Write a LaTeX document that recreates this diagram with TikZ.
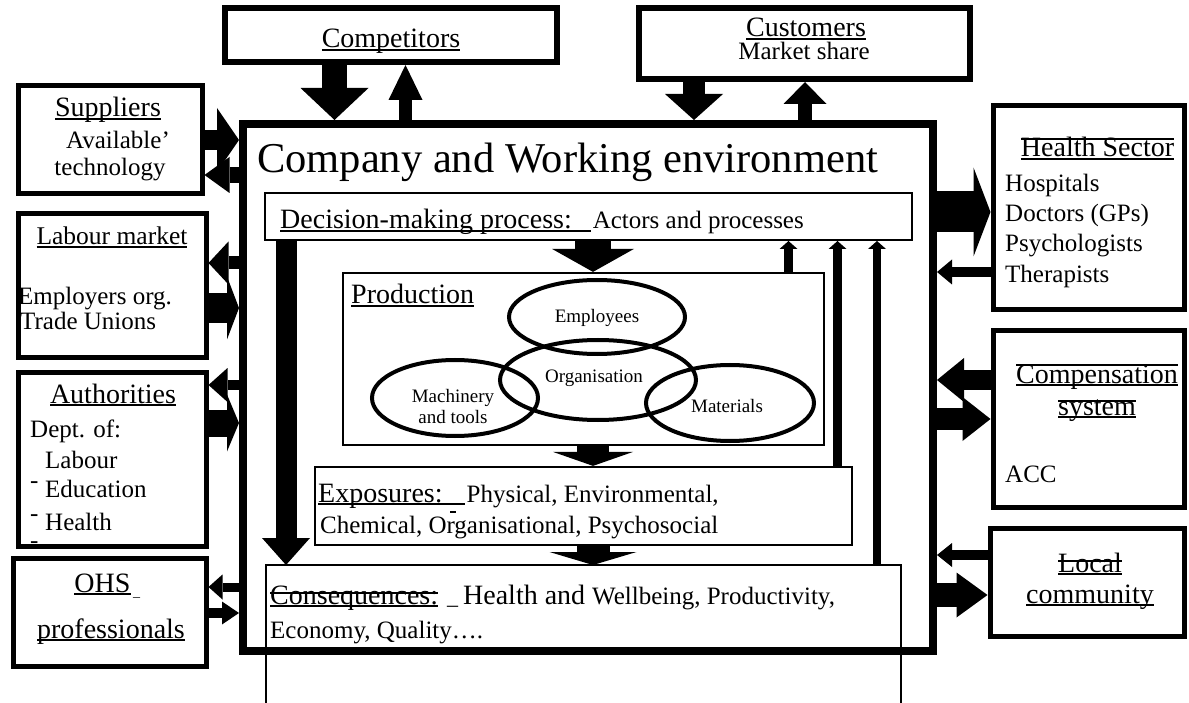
\documentclass[tikz,border=0pt]{standalone}
\usepackage{fontspec}
\setmainfont{Liberation Serif}
\usetikzlibrary{arrows.meta,shapes.geometric}
\tikzset{ob/.style={draw, line width=5pt, inner sep=0pt}}
\tikzset{ib/.style={draw, line width=2pt, inner sep=0pt}}
\tikzset{el/.style={draw, ellipse, line width=4pt, inner sep=0pt}}
\tikzset{hd/.style={font=\fontsize{28}{30}\selectfont, inner sep=0pt}}
\tikzset{tx/.style={font=\fontsize{25}{28}\selectfont, inner sep=0pt}}
\tikzset{sm/.style={font=\fontsize{19}{21}\selectfont, inner sep=0pt}}
\tikzset{ba/.style n args={3}{line width=#1pt, -{Triangle[length=#2pt, width=#3pt, line width=0pt]}}}
\newcommand{\uln}[1]{\sbox0{#1}\rlap{\rule[-.1em]{\wd0}{.065em}}\usebox0}
\newcommand{\strk}[2]{\sbox0{#2}\rlap{\rule[#1]{\wd0}{.065em}}\usebox0}

\begin{document}
\begin{tikzpicture}[x=1pt, y=-1pt]
    \useasboundingbox (0,0) rectangle (1189,703);
    % outside boxes
    \node[ob, line width=6pt, minimum width=332pt, minimum height=54pt] (comp) at (391,35) {};
    \node[ob, line width=6pt, minimum width=331pt, minimum height=71pt] (cust) at (804.5,43.5) {};
    \node[ob, minimum width=184pt, minimum height=108pt] (supp) at (110,140) {};
    \node[ob, minimum width=188pt, minimum height=144pt] (lab) at (112,286) {};
    \node[ob, minimum width=188pt, minimum height=174pt] (auth) at (112,459) {};
    \node[ob, minimum width=193pt, minimum height=108pt] (ohs) at (109.5,612) {};
    \node[ob, minimum width=191pt, minimum height=204pt] (hlth) at (1088.5,208) {};
    \node[ob, minimum width=191pt, minimum height=176pt] (comps) at (1088.5,419) {};
    \node[ob, minimum width=194pt, minimum height=108pt] (loc) at (1087,582) {};
    % company
    \coordinate (cqsw) at (266,703);
    \coordinate (cqne) at (901,565);
    \draw[line width=2pt] (cqsw) |- (cqne) -- (cqne |- cqsw);
    \node[ob, line width=8pt, minimum width=690pt, minimum height=527pt] (main) at (588,387.5) {};
    \node[ib, minimum width=647pt, minimum height=47pt] (dec) at (588.5,216.5) {};
    \node[ib, line width=2.2pt, minimum width=481pt, minimum height=172pt] (prod) at (583.5,359) {};
    \node[ib, line width=2.2pt, minimum width=537pt, minimum height=78pt] (expo) at (583.5,506) {};
    \node[el, minimum width=176pt, minimum height=74pt] (emp) at (597,317) {};
    \node[el, minimum width=196pt, minimum height=80pt] (org) at (598,380) {};
    \node[el, minimum width=166pt, minimum height=76pt] (mach) at (455,398) {};
    \node[el, minimum width=168pt, minimum height=76pt] (mat) at (730,403) {};

    % texts
    \node[hd, anchor=base] (tcomp) at (391,48) {\uln{Competitors}};
    \node[hd, anchor=base] (tcust) at (806,37) {\uln{Customers}};
    \node[tx, anchor=base] (tmark) at (804,60) {Market share};
    \node[hd, anchor=base] (tsupp) at (108,117) {\uln{Suppliers}};
    \node[tx, anchor=base] (tavail) at (118,149) {Available’};
    \node[tx, anchor=base] (ttech) at (110,176) {technology};
    \node[tx, font=\fontsize{25.5}{28}\selectfont, anchor=base] (tlab) at (112,245) {\uln{Labour market}};
    \node[tx, anchor=base west] (temp) at (18,305) {Employers org.};
    \node[tx, anchor=base west] (ttrade) at (20,330) {Trade Unions};
    \node[hd, anchor=base] (tauth) at (113,403) {\uln{Authorities}};
    \node[tx, anchor=base west] (tdept) at (30,437) {Dept. of:};
    \node[tx, anchor=base west] (tlabour) at (45,468) {Labour};
    \node[tx, anchor=base west] (tedu) at (45,497) {Education};
    \node[tx, anchor=base west] (thealth) at (45,530) {Health};
    \node[tx, anchor=base west] (d1) at (30,488) {-};
    \node[tx, anchor=base west] (d2) at (30,521) {-};
    \node[tx, anchor=base west] (d3) at (30,548) {-};
    \node[hd, anchor=base] (tohs) at (102.5,592) {\uln{OHS}};
    \node[inner sep=0pt, font=\fontsize{14}{16}\selectfont, anchor=base west] (tohsb) at (133,596) {\_};
    \node[hd, anchor=base] (tprof) at (111,638) {\uln{professionals}};

    \node[hd, anchor=base] (thlth) at (1097.5,157) {\uln{\strk{.62em}{Health Sector}}};
    \node[tx, anchor=base west] (thosp) at (1005,192) {Hospitals};
    \node[tx, anchor=base west] (tdoc) at (1005,222) {Doctors (GPs)};
    \node[tx, anchor=base west] (tpsy) at (1005,252) {Psychologists};
    \node[tx, anchor=base west] (tther) at (1005,283) {Therapists};
    \node[hd, anchor=base] (tcomps) at (1097,383) {\uln{\strk{.62em}{Compensation}}};
    \node[hd, anchor=base] (tsys) at (1097,415) {\uln{\strk{.47em}{system}}};
    \node[tx, anchor=base west] (tacc) at (1005,482) {ACC};
    \node[hd, anchor=base] (tloc) at (1090,572) {\uln{\strk{.36em}{Local}}};
    \node[hd, anchor=base] (tcomm) at (1090,603) {\uln{community}};

    \node[inner sep=0pt, font=\fontsize{42.5}{45}\selectfont, anchor=base west] (title) at (257,173) {Company and Working environment};
    \node[hd, anchor=base west] (tdec) at (280,229) {\uln{Decision-making process:\hspace{19pt}}\hspace{2pt}\fontsize{25}{28}\selectfont Actors and processes};
    \node[hd, anchor=base west] (tprod) at (351,304) {\uln{Production}};
    \node[sm] (temp2) at (597,318) {Employees};
    \node[sm] (torg) at (594,378) {Organisation};
    \node[sm, align=center] (tmach) at (453,407) {Machinery\\and tools};
    \node[sm] (tmat) at (727,406) {Materials};
    \node[hd, anchor=base west] (texpo) at (318,502) {\uln{Exposures:\hspace{22pt}}\hspace{2pt}\fontsize{25}{28}\selectfont Physical, Environmental,};
    \node[tx, anchor=base west] (texpo2) at (320,533) {Chemical, Organisational, Psychosocial};
    \draw[line width=1.5pt] (450,512) -- (456,512);
    \node[hd, anchor=base west] (tcq) at (270,604) {\uln{\strk{.36em}{Consequences:}}\hspace{9pt}{\fontsize{22}{24}\selectfont\_}\hspace{5pt}Health and \fontsize{25}{28}\selectfont Wellbeing, Productivity,};
    \node[tx, anchor=base west] (tcq2) at (270,638) {Economy, Quality….};

    % arrows top
    \draw[ba={25}{32}{68}] (comp.south -| 334.5,0) -- (main.north -| 334.5,0);
    \draw[ba={13}{35}{34}] (main.north -| 405.5,0) -- (comp.south -| 405.5,0);
    \draw[ba={22}{26}{58}] (cust.south -| 694,0) -- (main.north -| 694,0);
    \draw[ba={14.5}{22}{43}] (main.north -| 805,0) -- (cust.south -| 805,0);
    % arrows left
    \draw[ba={20}{22}{64}] (supp.east |- 0,140) -- (main.west |- 0,140);
    \draw[ba={16}{25}{36}] (main.west |- 0,175) -- (supp.east |- 0,175);
    \draw[ba={13}{20}{43}] (main.west |- 0,263) -- (lab.east |- 0,263);
    \draw[ba={30}{12}{63}] (lab.east |- 0,308) -- (main.west |- 0,308);
    \draw[ba={10}{19}{34}] (main.west |- 0,385) -- (auth.east |- 0,385);
    \draw[ba={27}{12}{57}] (auth.east |- 0,423) -- (main.west |- 0,423);
    \draw[ba={9}{14}{25}] (main.west |- 0,587) -- (ohs.east |- 0,587);
    \draw[ba={10}{17}{23}] (ohs.east |- 0,613) -- (main.west |- 0,613);
    % arrows right
    \draw[ba={41}{17}{89}] (main.east |- 0,212) -- (hlth.west |- 0,212);
    \draw[ba={10}{15}{25}] (hlth.west |- 0,272) -- (main.east |- 0,272);
    \draw[ba={20}{27}{44}] (comps.west |- 0,380) -- (main.east |- 0,380);
    \draw[ba={22}{28}{44}] (main.east |- 0,419) -- (comps.west |- 0,419);
    \draw[ba={10}{15}{24}] (loc.west |- 0,555) -- (main.east |- 0,555);
    \draw[ba={24}{31}{45}] (main.east |- 0,595) -- (loc.west |- 0,595);
    % arrows inside
    \draw[ba={36}{23}{82}] (dec.south -| 593,0) -- (prod.north -| 593,0);
    \draw[ba={32}{14}{80}] (prod.south -| 593,0) -- (expo.north -| 593,0);
    \draw[ba={33}{13}{87}] (expo.south -| 593,0) -- (593,0 |- cqne);
    \draw[ba={21}{27}{48}] (dec.south -| 286,0) -- (286,0 |- cqne);
    \draw[ba={9}{8}{18}] (prod.north -| 788.5,0) -- (dec.south -| 788.5,0);
    \draw[ba={9}{8}{18}] (expo.north -| 837.5,0) -- (dec.south -| 837.5,0);
    \draw[ba={8}{8}{18}] (877,0 |- cqne) -- (dec.south -| 877,0);
\end{tikzpicture}
\end{document}
